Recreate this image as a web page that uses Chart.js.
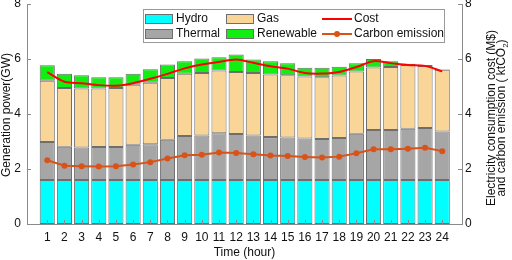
<!DOCTYPE html>
<html lang="en">
<head>
<meta charset="UTF-8">
<title>Generation power and cost by hour</title>
<script src="https://cdn.jsdelivr.net/npm/chart.js"></script>
<style>
    html, body { margin: 0; padding: 0; background: #fff; }
    #wrap { width: 512px; height: 260px; }
</style>
</head>
<body>
<div id="wrap"><canvas id="chart" width="512" height="260"></canvas></div>
<script>
// hour of day
const hours = [1, 2, 3, 4, 5, 6, 7, 8, 9, 10, 11, 12, 13, 14, 15, 16, 17, 18, 19, 20, 21, 22, 23, 24];

// stacked generation segments (GW)
const hydro = [1.6, 1.6, 1.6, 1.6, 1.6, 1.6, 1.6, 1.6, 1.6, 1.6, 1.6, 1.6, 1.6, 1.6, 1.6, 1.6, 1.6, 1.6, 1.6, 1.6, 1.6, 1.6, 1.6, 1.6];
const thermal = [1.38, 1.21, 1.18, 1.20, 1.20, 1.28, 1.30, 1.46, 1.60, 1.62, 1.70, 1.67, 1.62, 1.56, 1.55, 1.51, 1.49, 1.53, 1.68, 1.82, 1.82, 1.86, 1.89, 1.76];
const gas = [2.23, 2.14, 2.15, 2.13, 2.15, 2.18, 2.24, 2.25, 2.26, 2.27, 2.28, 2.26, 2.27, 2.28, 2.26, 2.25, 2.25, 2.27, 2.27, 2.27, 2.29, 2.32, 2.26, 2.25];
const renewable = [0.56, 0.51, 0.48, 0.41, 0.39, 0.40, 0.49, 0.49, 0.46, 0.53, 0.48, 0.63, 0.49, 0.48, 0.44, 0.32, 0.34, 0.32, 0.30, 0.31, 0.21, 0.05, 0.03, 0.02];

// right axis series
const cost = [5.52, 5.17, 5.12, 5.05, 5.03, 5.12, 5.28, 5.46, 5.66, 5.80, 5.89, 5.98, 5.86, 5.74, 5.65, 5.49, 5.47, 5.53, 5.71, 5.92, 5.85, 5.78, 5.75, 5.55];
const carbon = [2.32, 2.12, 2.10, 2.09, 2.10, 2.16, 2.25, 2.38, 2.50, 2.52, 2.60, 2.58, 2.54, 2.49, 2.47, 2.44, 2.42, 2.45, 2.57, 2.72, 2.72, 2.74, 2.77, 2.65];

const yTicks = [0, 2, 4, 6, 8];

const FONT = 'Liberation Sans, Arial, sans-serif';
const AXIS = '#8a8a8a';
const EDGE = '#6e6e6e';
const TEXT = '#111';
const C_HYDRO = '#00ffff';
const C_THERMAL = '#a6a6a6';
const C_GAS = '#f9d597';
const C_REN = '#12ee12';
const C_COST = '#ff0000';
const C_CARBON = '#d95319';

const pts = arr => arr.map((v, i) => ({ x: hours[i], y: v }));

function barSet(label, arr, color) {
    return {
        type: 'bar', label, data: pts(arr), backgroundColor: color,
        borderColor: EDGE, borderWidth: 1, borderSkipped: false,
        yAxisID: 'y', barPercentage: 0.88, categoryPercentage: 1, order: 2
    };
}

// legend, inward ticks and axis titles are drawn by hand
const extras = {
    id: 'extras',
    afterDatasetsDraw(chart) {
        const { ctx, chartArea: a, scales } = chart;
        ctx.save();

        // inward tick marks
        ctx.strokeStyle = AXIS;
        ctx.lineWidth = 1;
        ctx.beginPath();
        yTicks.forEach(v => {
            const y = Math.round(scales.y.getPixelForValue(v)) + 0.5;
            ctx.moveTo(a.left, y); ctx.lineTo(a.left + 4, y);
            ctx.moveTo(a.right, y); ctx.lineTo(a.right - 4, y);
        });
        hours.forEach(h => {
            const x = Math.round(scales.x.getPixelForValue(h)) + 0.5;
            ctx.moveTo(x, a.bottom); ctx.lineTo(x, a.bottom - 4);
        });
        ctx.stroke();

        // legend box
        ctx.fillStyle = '#fff';
        ctx.fillRect(143.5, 9.5, 301, 33);
        ctx.strokeStyle = '#999';
        ctx.strokeRect(143.5, 9.5, 301, 33);

        ctx.font = '12px ' + FONT;
        ctx.textBaseline = 'middle';
        ctx.textAlign = 'left';
        const rows = [19, 34];
        const swatch = (x, y, color) => {
            ctx.fillStyle = color;
            ctx.fillRect(x, y - 5, 28, 10);
            ctx.strokeStyle = EDGE;
            ctx.strokeRect(x + 0.5, y - 4.5, 27, 9);
        };
        swatch(145, rows[0], C_HYDRO);
        swatch(145, rows[1], C_THERMAL);
        swatch(226, rows[0], C_GAS);
        swatch(226, rows[1], C_REN);

        ctx.lineWidth = 2;
        ctx.strokeStyle = C_COST;
        ctx.beginPath(); ctx.moveTo(322, rows[0]); ctx.lineTo(352, rows[0]); ctx.stroke();
        ctx.strokeStyle = C_CARBON;
        ctx.beginPath(); ctx.moveTo(322, rows[1]); ctx.lineTo(352, rows[1]); ctx.stroke();
        ctx.fillStyle = C_CARBON;
        ctx.beginPath(); ctx.arc(337, rows[1], 3, 0, Math.PI * 2); ctx.fill();

        ctx.fillStyle = TEXT;
        ctx.fillText('Hydro', 176, rows[0]);
        ctx.fillText('Thermal', 176, rows[1]);
        ctx.fillText('Gas', 257, rows[0]);
        ctx.fillText('Renewable', 257, rows[1]);
        ctx.fillText('Cost', 354, rows[0]);
        ctx.fillText('Carbon emission', 354, rows[1]);

        // x axis title
        ctx.textAlign = 'center';
        ctx.fillText('Time (hour)', (a.left + a.right) / 2, 253);

        // left axis title
        const cy = (a.top + a.bottom) / 2 + 1;
        ctx.save();
        ctx.translate(7, cy);
        ctx.rotate(-Math.PI / 2);
        ctx.fillText('Generation power(GW)', 0, 0);
        ctx.restore();

        // right axis title, two lines reading bottom to top
        ctx.translate(491.5, cy + 3);
        ctx.rotate(-Math.PI / 2);
        ctx.fillText('Electricity consumption cost (M$)', 0, 0);

        const partA = 'and carbon emission ( ktCO';
        const partC = ')';
        const wA = ctx.measureText(partA).width;
        const wC = ctx.measureText(partC).width;
        ctx.font = '8px ' + FONT;
        const wB = ctx.measureText('2').width;
        const x0 = -(wA + wB + wC) / 2;
        ctx.textAlign = 'left';
        ctx.font = '12px ' + FONT;
        ctx.fillText(partA, x0, 10.5);
        ctx.font = '8px ' + FONT;
        ctx.fillText('2', x0 + wA, 14);
        ctx.font = '12px ' + FONT;
        ctx.fillText(partC, x0 + wA + wB, 10.5);

        ctx.restore();
    }
};

const tickFont = { family: FONT, size: 12 };

new Chart(document.getElementById('chart'), {
    data: {
        datasets: [
            {
                type: 'line', label: 'Cost', data: pts(cost), yAxisID: 'y2',
                borderColor: C_COST, borderWidth: 2, pointRadius: 0, tension: 0.3, order: 1
            },
            {
                type: 'line', label: 'Carbon emission', data: pts(carbon), yAxisID: 'y2',
                borderColor: C_CARBON, backgroundColor: C_CARBON, borderWidth: 2,
                pointRadius: 3, pointBorderWidth: 0, tension: 0, order: 0
            },
            barSet('Hydro', hydro, C_HYDRO),
            barSet('Thermal', thermal, C_THERMAL),
            barSet('Gas', gas, C_GAS),
            barSet('Renewable', renewable, C_REN)
        ]
    },
    options: {
        responsive: false,
        devicePixelRatio: 1,
        animation: false,
        layout: { padding: { top: 4, left: 0, right: 0, bottom: 0 } },
        plugins: { legend: { display: false }, tooltip: { enabled: false } },
        scales: {
            x: {
                type: 'linear', stacked: true, offset: false, min: -0.18, max: 25.15,
                grid: { display: false, drawTicks: false, offset: false },
                border: { display: true, color: AXIS },
                afterBuildTicks: s => { s.ticks = hours.map(v => ({ value: v })); },
                afterFit: s => { s.height = 36; s.paddingLeft = 0; s.paddingRight = 0; },
                ticks: { color: TEXT, font: tickFont, padding: 6, maxRotation: 0, autoSkip: false }
            },
            y: {
                position: 'left', stacked: true, min: 0, max: 8,
                grid: { display: false, drawTicks: false },
                border: { display: true, color: AXIS },
                afterBuildTicks: s => { s.ticks = yTicks.map(v => ({ value: v })); },
                afterFit: s => { s.width = 27; s.paddingTop = 0; s.paddingBottom = 0; },
                ticks: { color: TEXT, font: tickFont, padding: 6 }
            },
            y2: {
                position: 'right', min: 0, max: 8,
                grid: { display: false, drawTicks: false },
                border: { display: true, color: AXIS },
                afterBuildTicks: s => { s.ticks = yTicks.map(v => ({ value: v })); },
                afterFit: s => { s.width = 50; s.paddingTop = 0; s.paddingBottom = 0; },
                ticks: { color: TEXT, font: tickFont, padding: 3 }
            }
        }
    },
    plugins: [extras]
});
</script>
</body>
</html>
